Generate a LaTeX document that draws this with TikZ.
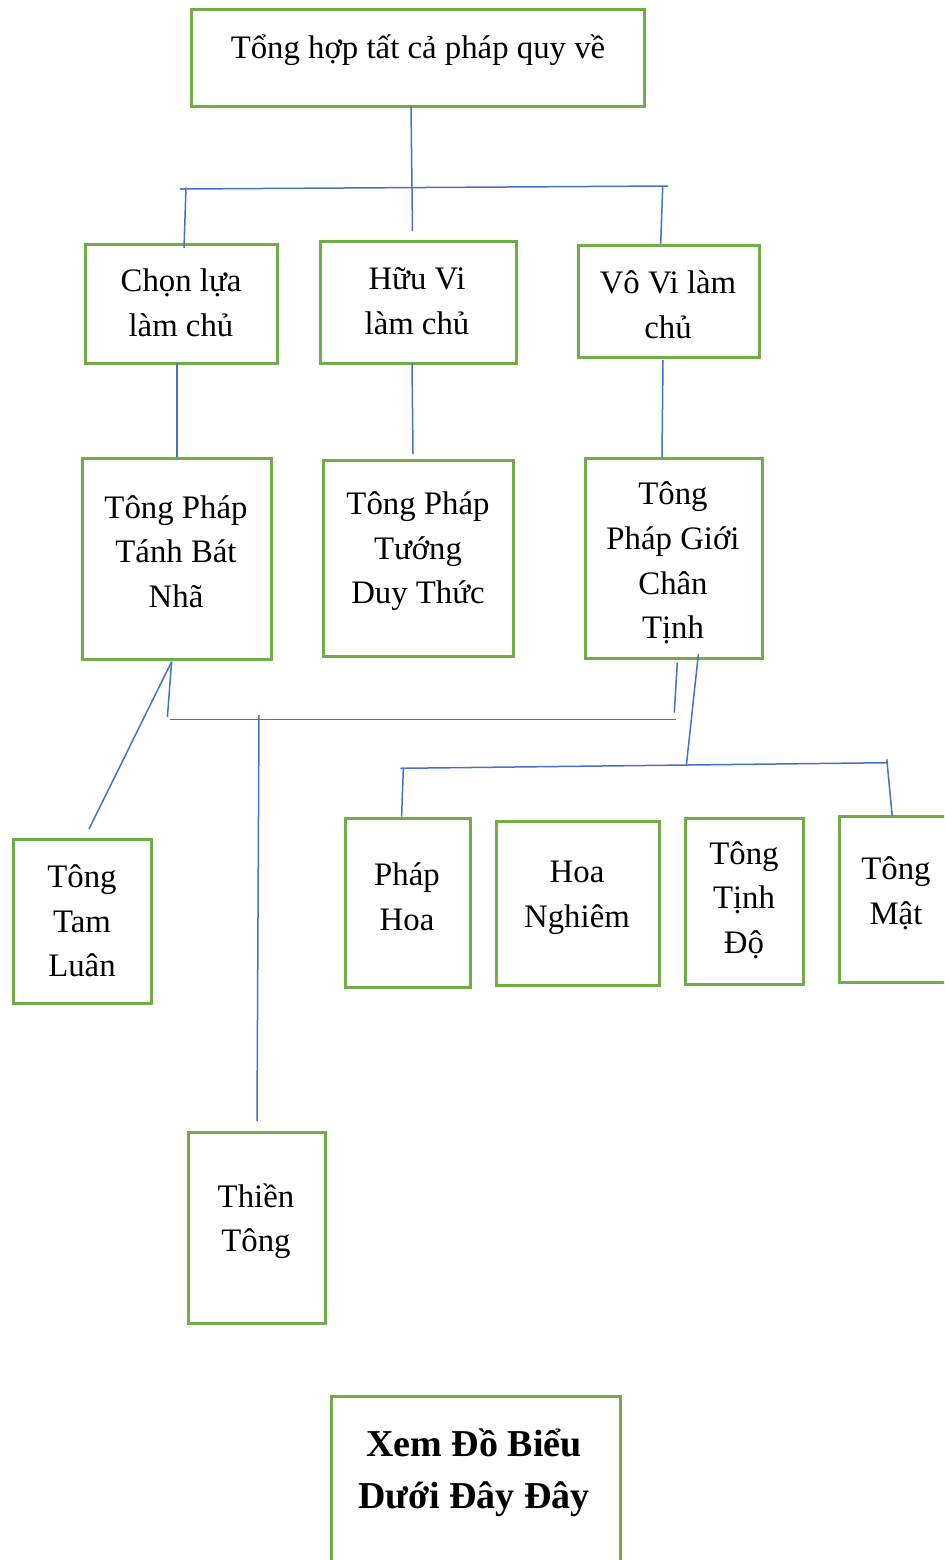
\documentclass[tikz,border=0pt]{standalone}
\usepackage{fontspec}
\setmainfont{Liberation Serif}
\usetikzlibrary{positioning}
\definecolor{boxgreen}{HTML}{70AD47}
\definecolor{linkblue}{HTML}{4472C4}
\tikzset{
  box/.style={rectangle,draw=boxgreen,line width=1.5pt,inner sep=0pt},
  txt/.style={align=center,inner sep=0pt,font=\fontsize{16.4}{22.3}\selectfont},
  big txt/.style={align=center,inner sep=0pt,font=\fontsize{19}{26}\selectfont\bfseries},
  link/.style={draw=linkblue,line width=0.75pt}
}
\begin{document}
\begin{tikzpicture}[x=0.5pt,y=-0.5pt]
\useasboundingbox (0,0) rectangle (944,1560);
\clip (0,0) rectangle (944,1560);
% boxes
\node[box,minimum width=226.5pt,minimum height=48.5pt] (top) at (417.5,57.5) {};
\node[box,minimum width=96pt,minimum height=59.5pt] (chon) at (181,303.5) {};
\node[box,minimum width=98pt,minimum height=61pt] (huu) at (418,302) {};
\node[box,minimum width=90.5pt,minimum height=56pt] (vo) at (668.5,301) {};
\node[box,minimum width=94.5pt,minimum height=100.5pt] (tanh) at (176.5,558.5) {};
\node[box,minimum width=95pt,minimum height=98pt] (tuong) at (418,558) {};
\node[box,minimum width=88.5pt,minimum height=100pt] (gioi) at (673.5,558) {};
\node[box,minimum width=69pt,minimum height=82pt] (tamluan) at (82,921) {};
\node[box,minimum width=62.5pt,minimum height=84.5pt] (phaphoa) at (407.5,902.5) {};
\node[box,minimum width=81.5pt,minimum height=82pt] (hoanghiem) at (577.5,903) {};
\node[box,minimum width=59pt,minimum height=83pt] (tinhdo) at (744,901) {};
\node[box,minimum width=58pt,minimum height=83pt] (mat) at (897,899) {};
\node[box,minimum width=68.5pt,minimum height=95.5pt] (thien) at (256.5,1227.5) {};
\node[box,minimum width=144.5pt,minimum height=92pt] (xem) at (475.5,1488) {};
% texts
\node[txt] (top-t) at (418,50) {Tổng hợp tất cả pháp quy về};
\node[txt] (chon-t) at (181,303) {Chọn lựa\\làm chủ};
\node[txt] (huu-t) at (417,301) {Hữu Vi\\làm chủ};
\node[txt] (vo-t) at (668,304.5) {Vô Vi làm\\chủ};
\node[txt] (tanh-t) at (176,551.5) {Tông Pháp\\Tánh Bát\\Nhã};
\node[txt] (tuong-t) at (418,551.5) {Tông Pháp\\Tướng\\Duy Thức};
\node[txt] (gioi-t) at (673,563) {Tông\\Pháp Giới\\Chân\\Tịnh};
\node[txt] (tamluan-t) at (82,921) {Tông\\Tam\\Luân};
\node[txt] (phaphoa-t) at (407,897) {Pháp\\Hoa};
\node[txt] (hoanghiem-t) at (577,897.5) {Hoa\\Nghiêm};
\node[txt] (tinhdo-t) at (744,900) {Tông\\Tịnh\\Độ};
\node[txt] (mat-t) at (896,893) {Tông\\Mật};
\node[txt] (thien-t) at (256,1221) {Thiền\\Tông};
\node[big txt] (xem-t) at (474,1473) {Xem Đồ Biểu\\Dưới Đây Đây};
% connector ends
\coordinate (top-dn) at (411,106);
\coordinate (top-end) at (412.5,231);
\coordinate (bar1-l) at (180,189);
\coordinate (bar1-r) at (668,186);
\coordinate (chon-up) at (186,187.5);
\coordinate (chon-in) at (184,248);
\coordinate (vo-up) at (662.7,187);
\coordinate (vo-in) at (660.7,244);
\coordinate (chon-dn) at (177,363);
\coordinate (tanh-up) at (177,457);
\coordinate (huu-dn) at (412,363);
\coordinate (tuong-up) at (413,454);
\coordinate (vo-dn) at (663,360);
\coordinate (gioi-up) at (662,457);
\coordinate (tanh-dn) at (171.6,661.7);
\coordinate (tamluan-up) at (89,829);
\coordinate (tanh-end) at (167.4,717);
\coordinate (bar2-l) at (169.8,719.6);
\coordinate (bar2-r) at (675.5,719.6);
\coordinate (thien-top) at (259,715);
\coordinate (thien-up) at (257,1121);
\coordinate (gioi-dn) at (677.3,662.7);
\coordinate (gioi-end) at (674.3,712.7);
\coordinate (gioi-dn2) at (698.4,654);
\coordinate (bar3-mid) at (686.3,766);
\coordinate (bar3-l) at (400.4,768.3);
\coordinate (bar3-r) at (888,762.7);
\coordinate (phaphoa-top) at (403.4,767.3);
\coordinate (phaphoa-up) at (401.6,816.7);
\coordinate (mat-top) at (886.8,759.3);
\coordinate (mat-up) at (892.2,816);
% connectors
\draw[link] (top-dn) -- (top-end);
\draw[link] (bar1-l) -- (bar1-r);
\draw[link] (chon-up) -- (chon-in);
\draw[link] (vo-up) -- (vo-in);
\draw[link] (chon-dn) -- (tanh-up);
\draw[link] (huu-dn) -- (tuong-up);
\draw[link] (vo-dn) -- (gioi-up);
\draw[link] (tanh-dn) -- (tamluan-up);
\draw[link] (tanh-dn) -- (tanh-end);
\draw[link] (bar2-l) -- (bar2-r);
\draw[link] (thien-top) -- (thien-up);
\draw[link] (gioi-dn) -- (gioi-end);
\draw[link] (gioi-dn2) -- (bar3-mid);
\draw[link] (bar3-l) -- (bar3-r);
\draw[link] (phaphoa-top) -- (phaphoa-up);
\draw[link] (mat-top) -- (mat-up);
\end{tikzpicture}
\end{document}
